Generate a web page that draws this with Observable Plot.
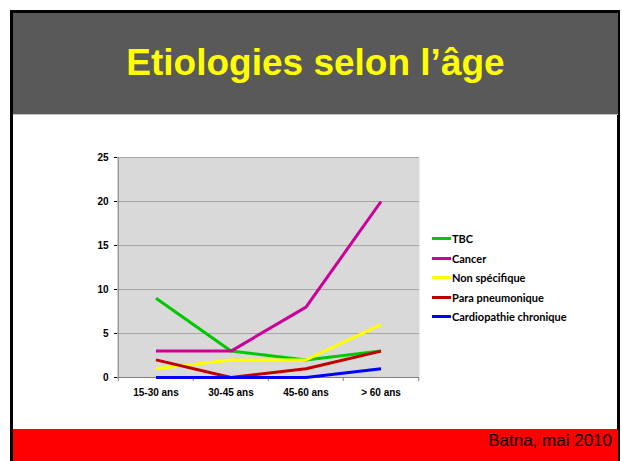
<!DOCTYPE html>
<html>
<head>
<meta charset="utf-8">
<script src="https://cdn.jsdelivr.net/npm/d3@7"></script>
<script src="https://cdn.jsdelivr.net/npm/@observablehq/plot@0.6"></script>
<style>
  html, body { margin: 0; padding: 0; background: #fff; }
  body { width: 622px; height: 461px; position: relative; overflow: hidden; font-family: "Liberation Sans", Arial, sans-serif; }
  #frame { position: absolute; left: 10px; top: 10px; width: 610px; height: 460px; border: 3px solid #000; border-bottom: none; box-sizing: border-box; }
  #header { position: absolute; left: 13px; top: 13px; width: 605px; height: 101px; background: #595959; border-bottom: 1px solid #c0c0c0; }
  #title { position: absolute; left: 13px; width: 605px; top: 42px; text-align: center; color: #ffff00; font: bold 37px "Liberation Sans", Arial, sans-serif; line-height: 42px; white-space: nowrap; }
  #footer { position: absolute; left: 13px; top: 429px; width: 605px; height: 32px; background: #ff0000; }
  #foottext { position: absolute; right: 10px; top: 432px; font: 17px "Liberation Sans", Arial, sans-serif; color: #000; line-height: 18px; white-space: nowrap; }
  #chart { position: absolute; left: 60px; top: 140px; }
  #chart svg { overflow: visible; background: transparent; }
  #chart svg [aria-label^="y-axis"] line { stroke: #808080; }
  #legend { position: absolute; left: 432px; top: 229px; font: bold 11px Lato, "Liberation Sans", sans-serif; color: #000; }
  .item { height: 19.5px; display: flex; align-items: center; white-space: nowrap; }
  .swatch { width: 19px; height: 3px; margin-right: 1px; }
</style>
</head>
<body>
<div id="frame"></div>
<div id="header"></div>
<div id="title">Etiologies selon l’âge</div>
<div id="chart"></div>
<div id="legend"></div>
<div id="footer"></div>
<div id="foottext">Batna, mai 2010</div>
<script>
const categories = ["15-30 ans", "30-45 ans", "45-60 ans", "> 60 ans"];
const tbc = [9, 3, 2, 3];
const cancer = [3, 3, 8, 20];
const nonSpecifique = [1, 2, 2, 6];
const paraPneumonique = [2, 0, 1, 3];
const cardiopathie = [0, 0, 0, 1];
const seriesNames = ["TBC", "Cancer", "Non spécifique", "Para pneumonique", "Cardiopathie chronique"];
const seriesValues = [tbc, cancer, nonSpecifique, paraPneumonique, cardiopathie];
const seriesColors = ["#00c800", "#cc0099", "#ffff00", "#c00000", "#0000ff"];
const yTicks = [0, 5, 10, 15, 20, 25];

const rows = seriesNames.flatMap((name, s) =>
  categories.map((c, i) => ({series: name, cat: c, value: seriesValues[s][i]})));

const W = 380, H = 270;
const mL = 57, mR = 21, mT = 17, mB = 33;
const half = (W - mL - mR) / categories.length / 2;

const lineMarks = seriesNames.map((name, s) =>
  Plot.line(rows.filter(d => d.series === name), {
    x: "cat", y: "value", stroke: seriesColors[s], strokeWidth: 3, strokeLinejoin: "round", strokeLinecap: "butt"
  }));

const chart = Plot.plot({
  width: W, height: H,
  marginLeft: mL, marginRight: mR, marginTop: mT, marginBottom: mB,
  style: {fontFamily: "'Liberation Sans', Arial, sans-serif", fontSize: "10px", fontWeight: "bold", color: "#000", background: "transparent"},
  x: {type: "band", domain: categories, padding: 0, label: null, tickSize: 0, tickPadding: 11},
  y: {domain: [0, 25], ticks: yTicks, tickSize: 3, tickPadding: 6, label: null},
  marks: [
    Plot.frame({fill: "#d9d9d9", stroke: "none"}),
    Plot.ruleY(yTicks.slice(1), {stroke: "#a6a6a6", strokeWidth: 1}),
    Plot.ruleX([categories[0]], {dx: -half, y1: 0, y2: 25, stroke: "#808080"}),
    Plot.ruleX(categories, {x: d => d, dx: -half, y1: 0, y2: -0.45, stroke: "#808080"}),
    Plot.ruleX([categories[categories.length - 1]], {dx: half, y1: 0, y2: -0.45, stroke: "#808080"}),
    Plot.ruleY([0], {stroke: "#808080"}),
    ...lineMarks
  ]
});
document.getElementById("chart").appendChild(chart);

const legend = document.getElementById("legend");
seriesNames.forEach((name, s) => {
  const item = document.createElement("div");
  item.className = "item";
  const sw = document.createElement("span");
  sw.className = "swatch";
  sw.style.background = seriesColors[s];
  const tx = document.createElement("span");
  tx.textContent = name;
  item.appendChild(sw);
  item.appendChild(tx);
  legend.appendChild(item);
});
</script>
</body>
</html>
